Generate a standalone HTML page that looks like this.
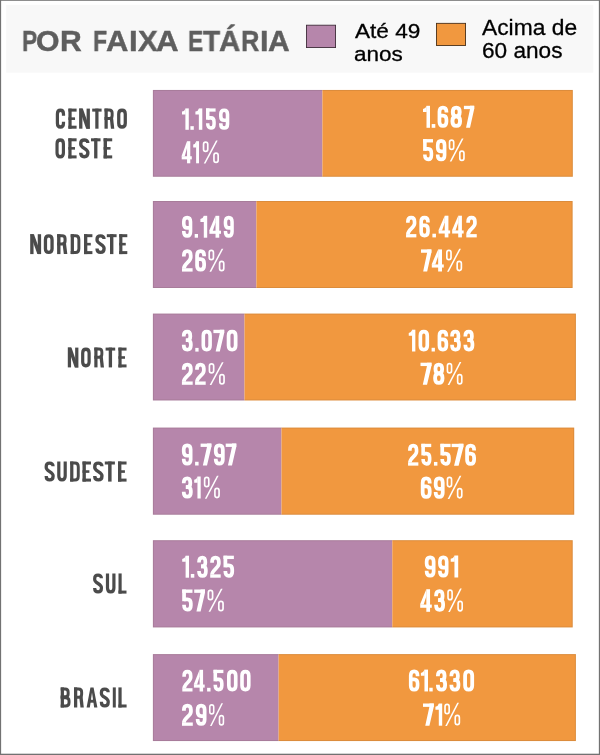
<!DOCTYPE html>
<html><head><meta charset="utf-8"><title>Por faixa etária</title>
<style>
html,body{margin:0;padding:0;background:#fff;}
body{width:600px;height:755px;position:relative;overflow:hidden;font-family:"Liberation Sans",sans-serif;}
.r{position:absolute;}
.lg{-webkit-text-stroke:0.3px #000;}
.h{color:transparent;font-weight:bold;z-index:1;}
.t{position:absolute;z-index:2;white-space:nowrap;line-height:1em;transform-origin:0 0;will-change:transform;font-kerning:none;letter-spacing:0;}
svg{position:absolute;left:0;top:0;}
.s{fill:none;stroke:currentColor;stroke-linecap:butt;stroke-linejoin:miter;}
.f{fill:currentColor;stroke:none;}
</style></head><body>
<div class="t" style="left:21.58px;top:26.03px;font-size:30.09px;font-weight:bold;color:#5e5e5e;transform:scaleX(0.7576);-webkit-text-stroke:0.45px #5e5e5e;">P</div>
<div class="t" style="left:36.46px;top:26.03px;font-size:30.09px;font-weight:bold;color:#5e5e5e;transform:scaleX(1.0045);-webkit-text-stroke:0.45px #5e5e5e;">O</div>
<div class="t" style="left:60.03px;top:26.03px;font-size:30.09px;font-weight:bold;color:#5e5e5e;transform:scaleX(0.9791);-webkit-text-stroke:0.45px #5e5e5e;">R</div>
<div class="t" style="left:92.76px;top:26.03px;font-size:30.09px;font-weight:bold;color:#5e5e5e;transform:scaleX(0.7665);-webkit-text-stroke:0.45px #5e5e5e;">F</div>
<div class="t" style="left:106.43px;top:26.03px;font-size:30.09px;font-weight:bold;color:#5e5e5e;transform:scaleX(1.0304);-webkit-text-stroke:0.45px #5e5e5e;">A</div>
<div class="t" style="left:128.91px;top:26.03px;font-size:30.09px;font-weight:bold;color:#5e5e5e;transform:scaleX(1.0383);-webkit-text-stroke:0.45px #5e5e5e;">I</div>
<div class="t" style="left:137.74px;top:26.03px;font-size:30.09px;font-weight:bold;color:#5e5e5e;transform:scaleX(0.9826);-webkit-text-stroke:0.45px #5e5e5e;">X</div>
<div class="t" style="left:155.92px;top:26.03px;font-size:30.09px;font-weight:bold;color:#5e5e5e;transform:scaleX(1.0404);-webkit-text-stroke:0.45px #5e5e5e;">A</div>
<div class="t" style="left:188.07px;top:26.03px;font-size:30.09px;font-weight:bold;color:#5e5e5e;transform:scaleX(0.7583);-webkit-text-stroke:0.45px #5e5e5e;">E</div>
<div class="t" style="left:202.99px;top:26.03px;font-size:30.09px;font-weight:bold;color:#5e5e5e;transform:scaleX(0.9313);-webkit-text-stroke:0.45px #5e5e5e;">T</div>
<div class="t" style="left:219.07px;top:26.03px;font-size:30.09px;font-weight:bold;color:#5e5e5e;transform:scaleX(0.9809);-webkit-text-stroke:0.45px #5e5e5e;">Á</div>
<div class="t" style="left:240.50px;top:26.03px;font-size:30.09px;font-weight:bold;color:#5e5e5e;transform:scaleX(0.8430);-webkit-text-stroke:0.45px #5e5e5e;">R</div>
<div class="t" style="left:259.56px;top:26.03px;font-size:30.09px;font-weight:bold;color:#5e5e5e;transform:scaleX(1.0153);-webkit-text-stroke:0.45px #5e5e5e;">I</div>
<div class="t" style="left:268.25px;top:26.03px;font-size:30.09px;font-weight:bold;color:#5e5e5e;transform:scaleX(0.9958);-webkit-text-stroke:0.45px #5e5e5e;">A</div>
<div class="t lg" style="left:354.96px;top:19.96px;font-size:21.08px;font-weight:normal;color:#000;transform:scaleX(1.0728)">Até 49</div>
<div class="t lg" style="left:354.04px;top:42.76px;font-size:21.08px;font-weight:normal;color:#000;transform:scaleX(1.0671)">anos</div>
<div class="t lg" style="left:481.96px;top:17.16px;font-size:21.66px;font-weight:normal;color:#000;transform:scaleX(1.0530)">Acima de</div>
<div class="t lg" style="left:481.55px;top:39.86px;font-size:21.66px;font-weight:normal;color:#000;transform:scaleX(1.0441)">60 anos</div>
<div class="t h" style="left:54.89px;top:103.67px;font-size:29.80px;transform:scaleX(0.5797)">CENTRO</div>
<div class="t h" style="left:54.54px;top:133.37px;font-size:29.80px;transform:scaleX(0.5795)">OESTE</div>
<div class="t h" style="left:28.80px;top:229.32px;font-size:29.51px;transform:scaleX(0.6063)">NORDESTE</div>
<div class="t h" style="left:66.43px;top:342.74px;font-size:29.36px;transform:scaleX(0.5936)">NORTE</div>
<div class="t h" style="left:43.89px;top:456.57px;font-size:29.80px;transform:scaleX(0.5937)">SUDESTE</div>
<div class="t h" style="left:92.40px;top:568.51px;font-size:29.87px;transform:scaleX(0.5832)">SUL</div>
<div class="t h" style="left:59.28px;top:682.47px;font-size:29.80px;transform:scaleX(0.6139)">BRASIL</div>
<div class="t h" style="left:180.55px;top:103.17px;font-size:31.69px;transform:scaleX(0.6266)">1.159</div>
<div class="t h" style="left:181.21px;top:135.81px;font-size:32.70px;transform:scaleX(0.5882)">41%</div>
<div class="t h" style="left:421.44px;top:100.43px;font-size:32.56px;transform:scaleX(0.6616)">1.687</div>
<div class="t h" style="left:422.23px;top:133.69px;font-size:32.85px;transform:scaleX(0.6592)">59%</div>
<div class="t h" style="left:181.06px;top:210.46px;font-size:32.41px;transform:scaleX(0.6626)">9.149</div>
<div class="t h" style="left:181.03px;top:243.86px;font-size:32.99px;transform:scaleX(0.6716)">26%</div>
<div class="t h" style="left:405.02px;top:210.40px;font-size:32.12px;transform:scaleX(0.7418)">26.442</div>
<div class="t h" style="left:419.87px;top:244.01px;font-size:32.70px;transform:scaleX(0.6584)">74%</div>
<div class="t h" style="left:181.17px;top:324.48px;font-size:32.27px;transform:scaleX(0.7117)">3.070</div>
<div class="t h" style="left:180.92px;top:357.43px;font-size:32.56px;transform:scaleX(0.6870)">22%</div>
<div class="t h" style="left:407.15px;top:324.38px;font-size:32.27px;transform:scaleX(0.6906)">10.633</div>
<div class="t h" style="left:419.35px;top:357.31px;font-size:32.70px;transform:scaleX(0.6726)">78%</div>
<div class="t h" style="left:180.92px;top:438.26px;font-size:32.41px;transform:scaleX(0.6975)">9.797</div>
<div class="t h" style="left:181.25px;top:471.13px;font-size:32.56px;transform:scaleX(0.6042)">31%</div>
<div class="t h" style="left:407.06px;top:438.47px;font-size:32.34px;transform:scaleX(0.7074)">25.576</div>
<div class="t h" style="left:419.80px;top:471.06px;font-size:32.99px;transform:scaleX(0.6598)">69%</div>
<div class="t h" style="left:180.63px;top:550.33px;font-size:32.56px;transform:scaleX(0.6661)">1.325</div>
<div class="t h" style="left:181.33px;top:584.11px;font-size:32.70px;transform:scaleX(0.6621)">57%</div>
<div class="t h" style="left:423.87px;top:550.13px;font-size:32.56px;transform:scaleX(0.6464)">991</div>
<div class="t h" style="left:419.67px;top:583.69px;font-size:33.43px;transform:scaleX(0.6593)">43%</div>
<div class="t h" style="left:181.30px;top:664.50px;font-size:32.12px;transform:scaleX(0.7170)">24.500</div>
<div class="t h" style="left:181.04px;top:698.43px;font-size:32.56px;transform:scaleX(0.6743)">29%</div>
<div class="t h" style="left:407.89px;top:664.27px;font-size:32.34px;transform:scaleX(0.6805)">61.330</div>
<div class="t h" style="left:421.96px;top:698.09px;font-size:32.85px;transform:scaleX(0.5924)">71%</div>
<svg width="600" height="755" viewBox="0 0 600 755">
<defs>
<g id="LC"><path class="s" stroke-width="16.6" d="M39.7,35V27.3C39.7,15.52 33.73,8.3 24,8.3C14.27,8.3 8.3,15.52 8.3,27.3V72.7C8.3,84.48 14.27,91.7 24,91.7C33.73,91.7 39.7,84.48 39.7,72.7V65"/></g>
<g id="LE"><path class="f" d="M0,0 L16.6,0 L16.6,100 L0,100Z"/><path class="f" d="M0,0 L42,0 L42,15 L0,15Z"/><path class="f" d="M0,43.5 L34,43.5 L34,56.5 L0,56.5Z"/><path class="f" d="M0,85 L42,85 L42,100 L0,100Z"/></g>
<g id="LN"><path class="f" d="M0,0 L16.6,0 L16.6,100 L0,100Z"/><path class="f" d="M37.4,0 L54,0 L54,100 L37.4,100Z"/><path class="f" d="M0,0 L18.6,0 L54,100 L35.4,100Z"/></g>
<g id="LT"><path class="f" d="M0,0 L48,0 L48,15 L0,15Z"/><path class="f" d="M15.7,0 L32.3,0 L32.3,100 L15.7,100Z"/></g>
<g id="LR"><path class="s" stroke-width="15" d="M0,7.5H24C33.3,7.5 39,13.2 39,22.5V34C39,43.3 33.3,49 24,49H0"/><path class="f" d="M0,0 L16.6,0 L16.6,100 L0,100Z"/><path class="f" d="M27,50 L43.5,44 L50,100 L33,100Z"/></g>
<g id="LO"><path class="s" stroke-width="16.6" d="M8.3,27.3C8.3,15.52 14.65,8.3 25,8.3C35.35,8.3 41.7,15.52 41.7,27.3V72.7C41.7,84.48 35.35,91.7 25,91.7C14.65,91.7 8.3,84.48 8.3,72.7Z"/></g>
<g id="LS"><path class="s" stroke-width="16.6" d="M42.7,23.8C42.7,14.19 36.16,8.3 25.5,8.3C14.84,8.3 8.3,14.19 8.3,23.8V31C8.3,47 42.7,53 42.7,69V74.7C42.7,85.24 36.16,91.7 25.5,91.7C14.84,91.7 8.3,85.24 8.3,74.7V72"/></g>
<g id="LD"><path class="s" stroke-width="15" d="M0,7.5H24.7C35.24,7.5 41.7,14.72 41.7,26.5V73.5C41.7,85.28 35.24,92.5 24.7,92.5H0"/><path class="f" d="M0,0 L16.6,0 L16.6,100 L0,100Z"/></g>
<g id="LU"><path class="s" stroke-width="16.6" d="M8.3,0V72.7C8.3,84.48 14.65,91.7 25,91.7C35.35,91.7 41.7,84.48 41.7,72.7V0"/></g>
<g id="LL"><path class="f" d="M0,0 L16.6,0 L16.6,100 L0,100Z"/><path class="f" d="M0,85 L42,85 L42,100 L0,100Z"/></g>
<g id="LB"><path class="s" stroke-width="15" d="M0,7.5H23C32.3,7.5 38,13.2 38,22.5V33C38,41.68 32.3,47 23,47H0"/><path class="s" stroke-width="15" d="M0,51.5H25C35.85,51.5 42.5,57.39 42.5,67V76.5C42.5,86.42 35.85,92.5 25,92.5H0"/><path class="f" d="M0,0 L16.6,0 L16.6,100 L0,100Z"/></g>
<g id="LA"><path class="f" d="M0,100 L19.5,0 L35.5,0 L55,100 L38.5,100 L27.5,25 L16.5,100Z"/><path class="f" d="M12,61.5 L43,61.5 L43,76 L12,76Z"/></g>
<g id="LI"><path class="f" d="M0,0 L16.6,0 L16.6,100 L0,100Z"/></g>
<g id="D0"><path class="s" stroke-width="17" d="M8.5,27.5C8.5,15.72 14.58,8.5 24.5,8.5C34.42,8.5 40.5,15.72 40.5,27.5V72.5C40.5,84.28 34.42,91.5 24.5,91.5C14.58,91.5 8.5,84.28 8.5,72.5Z"/></g>
<g id="D1"><path class="f" d="M17,0 L34,0 L34,100 L17,100Z"/><path class="f" d="M18,0V28H0V15Q13,13 18,0Z"/></g>
<g id="D2"><path class="s" stroke-width="17" d="M8.5,32V27.5C8.5,15.72 14.39,8.5 24,8.5C33.61,8.5 39.5,15.72 39.5,27.5V36C39.5,56 8.5,64 8.5,85.8"/><path class="f" d="M0,84.8 L48,84.8 L48,100 L0,100Z"/></g>
<g id="D3"><path class="s" stroke-width="17" d="M8.5,31V27.5C8.5,15.72 14.58,8.5 24.5,8.5C32.87,8.5 38,15.72 38,27.5V32C38,41.92 32.68,48 24,48H18"/><path class="s" stroke-width="17" d="M18,48H26.5C35.18,48 40.5,54.46 40.5,65V72.5C40.5,84.28 34.42,91.5 24.5,91.5C14.58,91.5 8.5,84.28 8.5,72.5V69"/></g>
<g id="D4"><path class="f" d="M28,0 L45,0 L45,100 L28,100Z"/><path class="f" d="M0,68 L53,68 L53,82.2 L0,82.2Z"/><path class="f" d="M28,0 L0,66 L0,69 L15.5,69 L28.5,30Z"/></g>
<g id="D5"><path class="s" stroke-width="17" d="M8.5,44.5H24C33.61,44.5 39.5,51.72 39.5,63.5V72.5C39.5,84.28 33.61,91.5 24,91.5C14.39,91.5 8.5,84.28 8.5,72.5V69"/><path class="f" d="M0,0 L47,0 L47,15.2 L0,15.2Z"/><path class="f" d="M0,0 L17,0 L17,53 L0,53Z"/></g>
<g id="D6"><path class="s" stroke-width="17" d="M40.5,31V27.5C40.5,15.72 34.42,8.5 24.5,8.5C14.58,8.5 8.5,15.72 8.5,27.5V72.5C8.5,84.28 14.58,91.5 24.5,91.5C34.42,91.5 40.5,84.28 40.5,72.5V63.5C40.5,51.72 34.42,44.5 24.5,44.5H8.5"/></g>
<g id="D7"><path class="f" d="M0,0 L48,0 L48,15.2 L0,15.2Z"/><path class="f" d="M48,0 L48,14.2 L28.5,100 L10,100 L28.5,14.2 L28.5,0Z"/></g>
<g id="D8"><path class="s" stroke-width="17" d="M10,28.25C10,16.01 15.7,8.5 25,8.5C34.3,8.5 40,16.01 40,28.25C40,40.49 34.3,48 25,48C15.7,48 10,40.49 10,28.25Z"/><path class="s" stroke-width="17" d="M8.5,68C8.5,55.6 14.77,48 25,48C35.23,48 41.5,55.6 41.5,68V71.5C41.5,83.9 35.23,91.5 25,91.5C14.77,91.5 8.5,83.9 8.5,71.5Z"/></g>
<g id="D9" transform="rotate(180 24.5 50)"><path class="s" stroke-width="17" d="M40.5,31V27.5C40.5,15.72 34.42,8.5 24.5,8.5C14.58,8.5 8.5,15.72 8.5,27.5V72.5C8.5,84.28 14.58,91.5 24.5,91.5C34.42,91.5 40.5,84.28 40.5,72.5V63.5C40.5,51.72 34.42,44.5 24.5,44.5H8.5"/></g>
<g id="Ddot"><path class="f" d="M0,83 L17,83 L17,100 L0,100Z"/></g>
<g id="Dpct"><path class="s" stroke-width="7.8" d="M3.9,14.25C3.9,8.14 7.64,4.4 13.75,4.4C19.86,4.4 23.6,8.14 23.6,14.25V36.25C23.6,42.36 19.86,46.1 13.75,46.1C7.64,46.1 3.9,42.36 3.9,36.25Z"/><path class="s" stroke-width="7.8" d="M52.4,63.75C52.4,57.64 56.14,53.9 62.25,53.9C68.36,53.9 72.1,57.64 72.1,63.75V85.75C72.1,91.86 68.36,95.6 62.25,95.6C56.14,95.6 52.4,91.86 52.4,85.75Z"/><path class="f" d="M62,-3 L70,-3 L13,101 L5,101Z"/></g>
</defs>
<rect x="6.2" y="4.8" width="587.1" height="67.9" fill="#f8f8f8"/>
<rect x="306.45" y="25.2" width="29.1" height="22.35" fill="#b686ab" stroke="#3f2d3a" stroke-width="0.9"/>
<rect x="436.45" y="23.35" width="29.1" height="22.1" fill="#f1983f" stroke="#4a3018" stroke-width="0.9"/>
<rect x="152.9" y="89.95" width="169.50" height="86.80" fill="#b686ab"/>
<rect x="322.4" y="89.95" width="250.40" height="86.80" fill="#f1983f"/>
<rect x="153.40" y="90.45" width="418.90" height="85.80" fill="none" stroke="#4a3a30" stroke-opacity="0.13" stroke-width="1"/>
<rect x="152.9" y="201.0" width="103.50" height="87.00" fill="#b686ab"/>
<rect x="256.4" y="201.0" width="316.20" height="87.00" fill="#f1983f"/>
<rect x="153.40" y="201.50" width="418.70" height="86.00" fill="none" stroke="#4a3a30" stroke-opacity="0.13" stroke-width="1"/>
<rect x="152.9" y="313.6" width="91.60" height="86.85" fill="#b686ab"/>
<rect x="244.5" y="313.6" width="331.40" height="86.85" fill="#f1983f"/>
<rect x="153.40" y="314.10" width="422.00" height="85.85" fill="none" stroke="#4a3a30" stroke-opacity="0.13" stroke-width="1"/>
<rect x="152.9" y="427.6" width="128.60" height="87.10" fill="#b686ab"/>
<rect x="281.5" y="427.6" width="292.70" height="87.10" fill="#f1983f"/>
<rect x="153.40" y="428.10" width="420.30" height="86.10" fill="none" stroke="#4a3a30" stroke-opacity="0.13" stroke-width="1"/>
<rect x="152.9" y="540.2" width="239.40" height="87.20" fill="#b686ab"/>
<rect x="392.3" y="540.2" width="180.40" height="87.20" fill="#f1983f"/>
<rect x="153.40" y="540.70" width="418.80" height="86.20" fill="none" stroke="#4a3a30" stroke-opacity="0.13" stroke-width="1"/>
<rect x="152.9" y="654.1" width="125.70" height="86.95" fill="#b686ab"/>
<rect x="278.6" y="654.1" width="297.30" height="86.95" fill="#f1983f"/>
<rect x="153.40" y="654.60" width="422.00" height="85.95" fill="none" stroke="#4a3a30" stroke-opacity="0.13" stroke-width="1"/>
<g style="color:#4b4b4b"><use href="#LC" transform="translate(55.80,108.60) scale(0.1937,0.2010)"/><use href="#LE" transform="translate(68.40,108.60) scale(0.1952,0.2010)"/><use href="#LN" transform="translate(79.10,108.60) scale(0.2000,0.2010)"/><use href="#LT" transform="translate(92.20,108.60) scale(0.1958,0.2010)"/><use href="#LR" transform="translate(104.50,108.60) scale(0.1960,0.2010)"/><use href="#LO" transform="translate(117.10,108.60) scale(0.1960,0.2010)"/></g>
<g style="color:#4b4b4b"><use href="#LO" transform="translate(55.45,138.30) scale(0.1910,0.2010)"/><use href="#LE" transform="translate(68.30,138.30) scale(0.1976,0.2010)"/><use href="#LS" transform="translate(79.10,138.30) scale(0.2039,0.2010)"/><use href="#LT" transform="translate(91.00,138.30) scale(0.1990,0.2010)"/><use href="#LE" transform="translate(103.60,138.30) scale(0.2048,0.2010)"/></g>
<g style="color:#4b4b4b"><use href="#LN" transform="translate(30.20,234.20) scale(0.2019,0.1990)"/><use href="#LO" transform="translate(43.80,234.20) scale(0.1980,0.1990)"/><use href="#LR" transform="translate(57.10,234.20) scale(0.2040,0.1990)"/><use href="#LD" transform="translate(70.70,234.20) scale(0.1960,0.1990)"/><use href="#LE" transform="translate(84.00,234.20) scale(0.2000,0.1990)"/><use href="#LS" transform="translate(95.40,234.20) scale(0.2020,0.1990)"/><use href="#LT" transform="translate(106.80,234.20) scale(0.2042,0.1990)"/><use href="#LE" transform="translate(119.20,234.20) scale(0.1929,0.1990)"/></g>
<g style="color:#4b4b4b"><use href="#LN" transform="translate(67.80,347.60) scale(0.1963,0.1980)"/><use href="#LO" transform="translate(81.10,347.60) scale(0.1920,0.1980)"/><use href="#LR" transform="translate(94.30,347.60) scale(0.1940,0.1980)"/><use href="#LT" transform="translate(105.60,347.60) scale(0.2000,0.1980)"/><use href="#LE" transform="translate(118.40,347.60) scale(0.1940,0.1980)"/></g>
<g style="color:#4b4b4b"><use href="#LS" transform="translate(44.60,461.50) scale(0.1980,0.2010)"/><use href="#LU" transform="translate(57.20,461.50) scale(0.1920,0.2010)"/><use href="#LD" transform="translate(70.15,461.50) scale(0.1950,0.2010)"/><use href="#LE" transform="translate(82.50,461.50) scale(0.2024,0.2010)"/><use href="#LS" transform="translate(93.10,461.50) scale(0.2059,0.2010)"/><use href="#LT" transform="translate(104.80,461.50) scale(0.2104,0.2010)"/><use href="#LE" transform="translate(118.00,461.50) scale(0.2036,0.2010)"/></g>
<g style="color:#4b4b4b"><use href="#LS" transform="translate(93.10,573.45) scale(0.1941,0.2015)"/><use href="#LU" transform="translate(105.90,573.45) scale(0.1920,0.2015)"/><use href="#LL" transform="translate(118.50,573.45) scale(0.1905,0.2015)"/></g>
<g style="color:#4b4b4b"><use href="#LB" transform="translate(60.70,687.40) scale(0.1960,0.2010)"/><use href="#LR" transform="translate(74.00,687.40) scale(0.1960,0.2010)"/><use href="#LA" transform="translate(86.60,687.40) scale(0.1964,0.2010)"/><use href="#LS" transform="translate(99.80,687.40) scale(0.1961,0.2010)"/><use href="#LI" transform="translate(112.80,687.40) scale(0.1807,0.2010)"/><use href="#LL" transform="translate(118.40,687.40) scale(0.1952,0.2010)"/></g>
<g style="color:#fff"><use href="#D1" transform="translate(182.00,108.40) scale(0.2000,0.2140)"/><use href="#Ddot" transform="translate(190.40,108.40) scale(0.2000,0.2140)"/><use href="#D1" transform="translate(195.40,108.40) scale(0.2029,0.2140)"/><use href="#D5" transform="translate(206.00,108.40) scale(0.2042,0.2140)"/><use href="#D9" transform="translate(219.00,108.40) scale(0.2102,0.2140)"/></g>
<g style="color:#fff"><use href="#D4" transform="translate(181.70,141.20) scale(0.1906,0.2210)"/><use href="#D1" transform="translate(193.20,141.20) scale(0.1706,0.2210)"/><use href="#Dpct" transform="translate(202.70,141.20) scale(0.2145,0.2210)"/></g>
<g style="color:#fff"><use href="#D1" transform="translate(423.00,105.80) scale(0.2059,0.2200)"/><use href="#Ddot" transform="translate(431.70,105.80) scale(0.2118,0.2200)"/><use href="#D6" transform="translate(437.60,105.80) scale(0.2184,0.2200)"/><use href="#D8" transform="translate(450.50,105.80) scale(0.2300,0.2200)"/><use href="#D7" transform="translate(463.90,105.80) scale(0.2146,0.2200)"/></g>
<g style="color:#fff"><use href="#D5" transform="translate(423.10,139.10) scale(0.2104,0.2220)"/><use href="#D9" transform="translate(435.90,139.10) scale(0.2143,0.2220)"/><use href="#Dpct" transform="translate(448.70,139.10) scale(0.2118,0.2220)"/></g>
<g style="color:#fff"><use href="#D9" transform="translate(182.00,215.80) scale(0.2102,0.2190)"/><use href="#Ddot" transform="translate(194.70,215.80) scale(0.1941,0.2190)"/><use href="#D1" transform="translate(200.40,215.80) scale(0.2000,0.2190)"/><use href="#D4" transform="translate(209.40,215.80) scale(0.2189,0.2190)"/><use href="#D9" transform="translate(223.70,215.80) scale(0.2061,0.2190)"/></g>
<g style="color:#fff"><use href="#D2" transform="translate(182.00,249.30) scale(0.2208,0.2230)"/><use href="#D6" transform="translate(195.20,249.30) scale(0.2204,0.2230)"/><use href="#Dpct" transform="translate(208.40,249.30) scale(0.2132,0.2230)"/></g>
<g style="color:#fff"><use href="#D2" transform="translate(406.05,215.70) scale(0.2146,0.2170)"/><use href="#D6" transform="translate(419.35,215.70) scale(0.2133,0.2170)"/><use href="#Ddot" transform="translate(432.40,215.70) scale(0.2088,0.2170)"/><use href="#D4" transform="translate(438.65,215.70) scale(0.2170,0.2170)"/><use href="#D4" transform="translate(452.15,215.70) scale(0.2170,0.2170)"/><use href="#D2" transform="translate(466.30,215.70) scale(0.2177,0.2170)"/></g>
<g style="color:#fff"><use href="#D7" transform="translate(421.00,249.40) scale(0.2167,0.2210)"/><use href="#D4" transform="translate(431.80,249.40) scale(0.2264,0.2210)"/><use href="#Dpct" transform="translate(446.00,249.40) scale(0.2132,0.2210)"/></g>
<g style="color:#fff"><use href="#D3" transform="translate(181.90,329.80) scale(0.2204,0.2180)"/><use href="#Ddot" transform="translate(195.30,329.80) scale(0.1941,0.2180)"/><use href="#D0" transform="translate(201.50,329.80) scale(0.2122,0.2180)"/><use href="#D7" transform="translate(213.40,329.80) scale(0.2250,0.2180)"/><use href="#D0" transform="translate(226.70,329.80) scale(0.2204,0.2180)"/></g>
<g style="color:#fff"><use href="#D2" transform="translate(181.90,362.80) scale(0.2250,0.2200)"/><use href="#D2" transform="translate(195.10,362.80) scale(0.2208,0.2200)"/><use href="#Dpct" transform="translate(208.60,362.80) scale(0.2145,0.2200)"/></g>
<g style="color:#fff"><use href="#D1" transform="translate(408.75,329.70) scale(0.1941,0.2180)"/><use href="#D0" transform="translate(418.55,329.70) scale(0.2153,0.2180)"/><use href="#Ddot" transform="translate(431.60,329.70) scale(0.1941,0.2180)"/><use href="#D6" transform="translate(437.60,329.70) scale(0.2163,0.2180)"/><use href="#D3" transform="translate(450.20,329.70) scale(0.2163,0.2180)"/><use href="#D3" transform="translate(463.50,329.70) scale(0.2204,0.2180)"/></g>
<g style="color:#fff"><use href="#D7" transform="translate(420.50,362.70) scale(0.2292,0.2210)"/><use href="#D8" transform="translate(433.20,362.70) scale(0.2240,0.2210)"/><use href="#Dpct" transform="translate(446.60,362.70) scale(0.2105,0.2210)"/></g>
<g style="color:#fff"><use href="#D9" transform="translate(181.90,443.60) scale(0.2163,0.2190)"/><use href="#Ddot" transform="translate(195.10,443.60) scale(0.2059,0.2190)"/><use href="#D7" transform="translate(200.60,443.60) scale(0.2250,0.2190)"/><use href="#D9" transform="translate(213.90,443.60) scale(0.2204,0.2190)"/><use href="#D7" transform="translate(225.70,443.60) scale(0.2208,0.2190)"/></g>
<g style="color:#fff"><use href="#D3" transform="translate(181.90,476.50) scale(0.2204,0.2200)"/><use href="#D1" transform="translate(194.20,476.50) scale(0.1912,0.2200)"/><use href="#Dpct" transform="translate(203.80,476.50) scale(0.2118,0.2200)"/></g>
<g style="color:#fff"><use href="#D2" transform="translate(408.05,443.80) scale(0.2146,0.2185)"/><use href="#D5" transform="translate(421.35,443.80) scale(0.2104,0.2185)"/><use href="#Ddot" transform="translate(433.95,443.80) scale(0.2029,0.2185)"/><use href="#D5" transform="translate(440.40,443.80) scale(0.2167,0.2185)"/><use href="#D7" transform="translate(451.60,443.80) scale(0.2458,0.2185)"/><use href="#D6" transform="translate(465.20,443.80) scale(0.2204,0.2185)"/></g>
<g style="color:#fff"><use href="#D6" transform="translate(420.80,476.50) scale(0.2204,0.2230)"/><use href="#D9" transform="translate(433.80,476.50) scale(0.2204,0.2230)"/><use href="#Dpct" transform="translate(446.60,476.50) scale(0.2105,0.2230)"/></g>
<g style="color:#fff"><use href="#D1" transform="translate(182.20,555.70) scale(0.2000,0.2200)"/><use href="#Ddot" transform="translate(190.80,555.70) scale(0.2059,0.2200)"/><use href="#D3" transform="translate(197.20,555.70) scale(0.2143,0.2200)"/><use href="#D2" transform="translate(210.20,555.70) scale(0.2188,0.2200)"/><use href="#D5" transform="translate(223.50,555.70) scale(0.2208,0.2200)"/></g>
<g style="color:#fff"><use href="#D5" transform="translate(182.20,589.50) scale(0.2188,0.2210)"/><use href="#D7" transform="translate(194.20,589.50) scale(0.2250,0.2210)"/><use href="#Dpct" transform="translate(207.50,589.50) scale(0.2158,0.2210)"/></g>
<g style="color:#fff"><use href="#D9" transform="translate(424.80,555.50) scale(0.2184,0.2200)"/><use href="#D9" transform="translate(438.10,555.50) scale(0.2122,0.2200)"/><use href="#D1" transform="translate(450.70,555.50) scale(0.2206,0.2200)"/></g>
<g style="color:#fff"><use href="#D4" transform="translate(420.20,589.20) scale(0.2189,0.2260)"/><use href="#D3" transform="translate(434.20,589.20) scale(0.2204,0.2260)"/><use href="#Dpct" transform="translate(447.20,589.20) scale(0.2079,0.2260)"/></g>
<g style="color:#fff"><use href="#D2" transform="translate(182.30,669.80) scale(0.2125,0.2170)"/><use href="#D4" transform="translate(193.90,669.80) scale(0.2038,0.2170)"/><use href="#Ddot" transform="translate(207.10,669.80) scale(0.2029,0.2170)"/><use href="#D5" transform="translate(213.50,669.80) scale(0.2104,0.2170)"/><use href="#D0" transform="translate(227.00,669.80) scale(0.2153,0.2170)"/><use href="#D0" transform="translate(240.20,669.80) scale(0.2122,0.2170)"/></g>
<g style="color:#fff"><use href="#D2" transform="translate(182.00,703.80) scale(0.2250,0.2200)"/><use href="#D9" transform="translate(195.80,703.80) scale(0.2184,0.2200)"/><use href="#Dpct" transform="translate(209.00,703.80) scale(0.2000,0.2200)"/></g>
<g style="color:#fff"><use href="#D6" transform="translate(408.90,669.60) scale(0.2143,0.2185)"/><use href="#D1" transform="translate(420.90,669.60) scale(0.2088,0.2185)"/><use href="#Ddot" transform="translate(429.30,669.60) scale(0.2000,0.2185)"/><use href="#D3" transform="translate(436.00,669.60) scale(0.2245,0.2185)"/><use href="#D3" transform="translate(449.50,669.60) scale(0.2204,0.2185)"/><use href="#D0" transform="translate(463.20,669.60) scale(0.2224,0.2185)"/></g>
<g style="color:#fff"><use href="#D7" transform="translate(423.00,703.50) scale(0.2250,0.2220)"/><use href="#D1" transform="translate(435.40,703.50) scale(0.2000,0.2220)"/><use href="#Dpct" transform="translate(444.20,703.50) scale(0.2105,0.2220)"/></g>
<rect x="0" y="0" width="600" height="0.8" fill="#727272"/><rect x="0" y="0" width="1.12" height="755" fill="#727272"/><rect x="598.85" y="0" width="1.15" height="755" fill="#727272"/><rect x="0" y="753.7" width="600" height="1.3" fill="#727272"/>
</svg>
</body></html>
